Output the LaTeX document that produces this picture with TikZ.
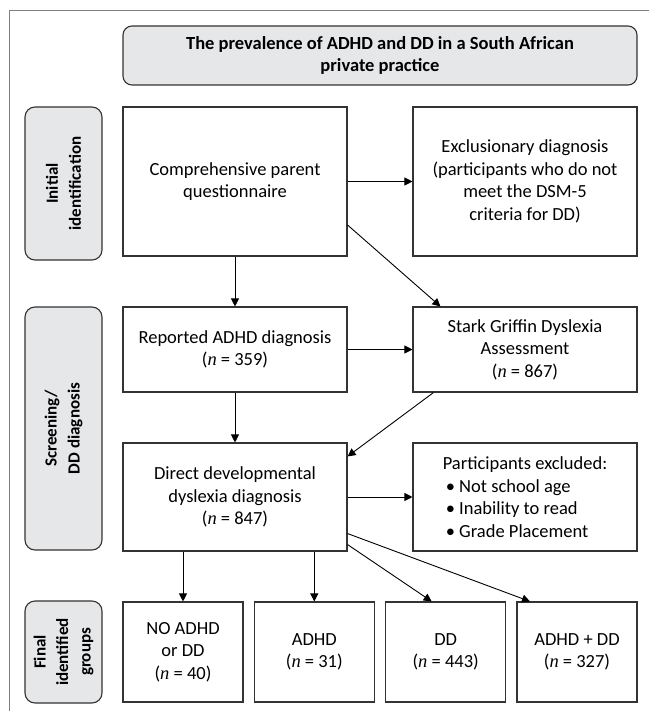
\documentclass[tikz,border=0pt]{standalone}
\usepackage{fontspec}
\setmainfont{Carlito}
\newfontfamily\nfont{Liberation Serif}
\usetikzlibrary{arrows.meta,calc}
\newcommand\nv{{\nfont\itshape n}}
\definecolor{lbl}{HTML}{E6E7E9}
\definecolor{edge}{HTML}{333333}
\begin{document}
\begin{tikzpicture}[x=1pt,y=-1pt,
  box/.style={draw=edge,line width=1.1pt,minimum width=224pt,align=center,inner sep=0pt,
    font=\fontsize{18.5}{22.5}\selectfont},
  grp/.style={box,minimum width=120pt,minimum height=100pt},
  lab/.style={draw=edge,line width=1.1pt,fill=lbl,rounded corners=10pt,rotate=90,align=center,
    inner sep=0pt,font=\fontsize{17}{23}\selectfont\bfseries,minimum height=77pt},
  arr/.style={draw=black,line width=0.9pt,-{Triangle[length=8pt,width=8pt]}}]
\useasboundingbox (0,0) rectangle (649,711);
% frame
\draw[gray,line width=1pt] (9,711) -- (9,11) -- (649,11);
% title
\node[draw=edge,line width=1.1pt,fill=lbl,rounded corners=9pt,minimum width=514pt,minimum height=59pt,
  align=center,inner sep=0pt,font=\fontsize{18.5}{21.5}\selectfont\bfseries] (title) at (380,55.5)
  {The prevalence of ADHD and DD in a South African\\private practice};
% stage labels
\node[lab,minimum width=153pt] (lab1) at (63.5,183.5) {Initial\\identification};
\node[lab,minimum width=243pt] (lab2) at (63.5,428.5) {Screening/\\DD diagnosis};
\node[lab,minimum width=102pt,font=\fontsize{17}{22.5}\selectfont\bfseries] (lab3) at (63.5,652) {Final\\identified\\groups};
% boxes
\node[box,minimum height=149pt] (comp) at (235,181.5) {Comprehensive parent\\questionnaire};
\node[box,minimum height=149pt] (excl) at (525,181.5) {Exclusionary diagnosis\\(participants who do not\\meet the DSM-5\\criteria for DD)};
\node[box,minimum height=85pt] (rep) at (235,349.5) {Reported ADHD diagnosis\\(\nv{} = 359)};
\node[box,minimum height=85pt] (stark) at (525,349.5) {Stark Griffin Dyslexia\\Assessment\\(\nv{} = 867)};
\node[box,minimum height=108pt] (direct) at (235,497) {Direct developmental\\dyslexia diagnosis\\(\nv{} = 847)};
\node[box,minimum height=108pt,align=left] (part) at (525,497) {Participants excluded:\\\,• Not school age\\\,• Inability to read\\\,• Grade Placement};
\node[grp] (g1) at (183,652) {NO ADHD\\or DD\\(\nv{} = 40)};
\node[grp] (g2) at (314.3,652) {ADHD\\(\nv{} = 31)};
\node[grp] (g3) at (445.7,652) {DD\\(\nv{} = 443)};
\node[grp] (g4) at (577,652) {ADHD + DD\\(\nv{} = 327)};
% connectors
\draw[arr] (comp.east) -- (excl.west);
\draw[arr] (comp.south) -- (rep.north);
\draw[arr] ([yshift=-43.5pt]comp.east) -- ([xshift=28pt]stark.north west);
\draw[arr] (rep.east) -- (stark.west);
\draw[arr] (rep.south) -- (direct.north);
\draw[arr] ([xshift=21pt]stark.south west) -- ([yshift=-14pt]direct.north east);
\draw[arr] (direct.east) -- (part.west);
\draw[arr] (g1.north |- direct.south) -- (g1.north);
\draw[arr] (g2.north |- direct.south) -- (g2.north);
\draw[arr] ([yshift=7pt]direct.south east) -- ([xshift=-14pt]g3.north);
\draw[arr] ([yshift=18pt]direct.south east) -- ([xshift=-47pt]g4.north);
\end{tikzpicture}
\end{document}
